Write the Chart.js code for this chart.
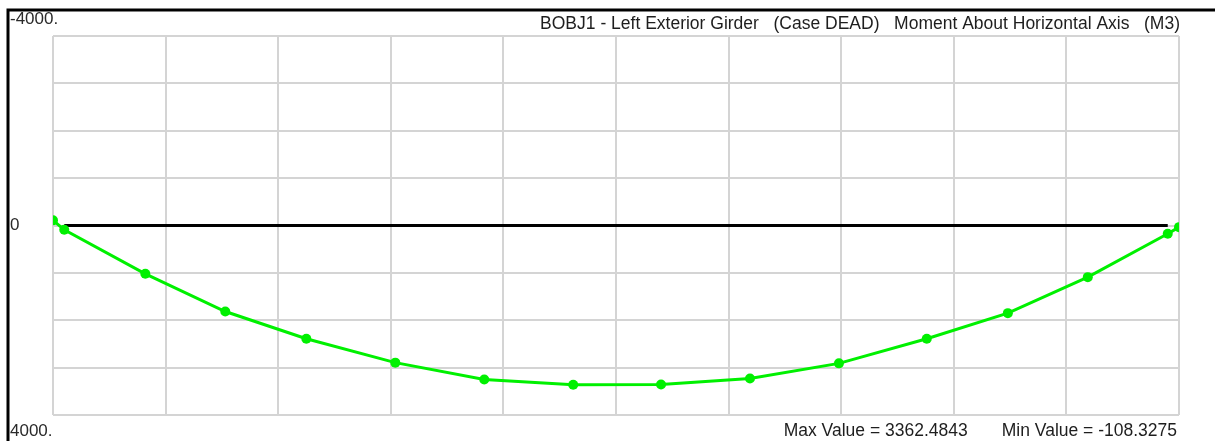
<!DOCTYPE html>
<html>
<head>
<meta charset="utf-8">
<script src="https://cdn.jsdelivr.net/npm/chart.js@4/dist/chart.umd.min.js"></script>
<style>
  html, body { margin: 0; padding: 0; background: #ffffff; }
  #wrap { position: absolute; left: 0; top: 0; width: 1215px; height: 441px; }
</style>
</head>
<body>
<div id="wrap"><canvas id="c" width="1215" height="441"></canvas></div>
<script>
// Station along the girder (grid units) and the M3 moment at each output point
const stations = [0, 0.10, 0.82, 1.53, 2.25, 3.04, 3.83, 4.62, 5.40, 6.19, 6.98, 7.76, 8.48, 9.19, 9.90, 10.0];
const momentM3 = [-108.3275, 90, 1020, 1815, 2390, 2895, 3250, 3362.4843, 3355, 3230, 2910, 2390, 1850, 1090, 175, 35];

// Girder reference line (zero moment) between the supports
const girderStations = [0.10, 9.90];
const girderValues = [0, 0];

// Vertical axis labels shown at the left edge
const yTickValues = [-4000, 0, 4000];
const yTickLabels = ['-4000.', '0', '4000.'];

const titleText = 'BOBJ1 - Left Exterior Girder   (Case DEAD)   Moment About Horizontal Axis   (M3)';
const maxValue = 3362.4843;
const minValue = -108.3275;
const footerText = 'Max Value = ' + maxValue.toFixed(4) + '       Min Value = ' + minValue.toFixed(4);

const FONT = '"Liberation Sans", Arial, sans-serif';

const decorations = {
  id: 'decorations',
  afterDraw(chart) {
    const ctx = chart.ctx;
    const y = chart.scales.y;
    const area = chart.chartArea;
    ctx.save();
    // outer frame (top and left edges)
    ctx.strokeStyle = '#000000';
    ctx.lineWidth = 3;
    ctx.beginPath();
    ctx.moveTo(1215, 10);
    ctx.lineTo(8, 10);
    ctx.lineTo(8, 441);
    ctx.stroke();

    // y labels
    ctx.fillStyle = '#2a2a2a';
    ctx.font = '17px ' + FONT;
    ctx.textAlign = 'left';
    ctx.textBaseline = 'middle';
    yTickValues.forEach((v, i) => {
      const py = y.getPixelForValue(v);
      let ty = py;
      if (v === yTickValues[0]) ty = py - 17;
      else if (v === yTickValues[yTickValues.length - 1]) ty = py + 16;
      ctx.fillText(yTickLabels[i], 10, ty);
    });

    // title and footer, right aligned to the plot edge
    ctx.fillStyle = '#1e1e1e';
    ctx.textAlign = 'right';
    ctx.textBaseline = 'middle';
    ctx.font = '17.5px ' + FONT;
    ctx.fillText(titleText, area.right + 1, 24);
    ctx.fillText(footerText, area.right - 2, 431);
    ctx.restore();
  }
};

new Chart(document.getElementById('c'), {
  type: 'scatter',
  data: {
    datasets: [
      {
        label: 'Girder',
        data: girderStations.map((s, i) => ({ x: s, y: girderValues[i] })),
        showLine: true,
        borderColor: '#000000',
        borderWidth: 3,
        pointRadius: 0,
        order: 2
      },
      {
        label: 'M3',
        data: stations.map((s, i) => ({ x: s, y: momentM3[i] })),
        showLine: true,
        borderColor: '#00f000',
        backgroundColor: '#00f000',
        borderWidth: 3,
        pointRadius: 5,
        pointBorderWidth: 0,
        pointBackgroundColor: '#00f000',
        order: 1
      }
    ]
  },
  options: {
    responsive: false,
    animation: false,
    events: [],
    layout: { padding: { left: 53, right: 36, top: 36, bottom: 26 } },
    plugins: {
      legend: { display: false },
      tooltip: { enabled: false },
      title: { display: false }
    },
    scales: {
      x: {
        type: 'linear',
        min: 0,
        max: 10,
        ticks: { display: false, stepSize: 1 },
        grid: { color: '#d4d4d4', lineWidth: 2, drawTicks: false },
        border: { display: false }
      },
      y: {
        type: 'linear',
        reverse: true,
        min: -4000,
        max: 4000,
        ticks: { display: false, stepSize: 1000 },
        grid: { color: '#d4d4d4', lineWidth: 2, drawTicks: false },
        border: { display: false }
      }
    }
  },
  plugins: [decorations]
});
</script>
</body>
</html>
